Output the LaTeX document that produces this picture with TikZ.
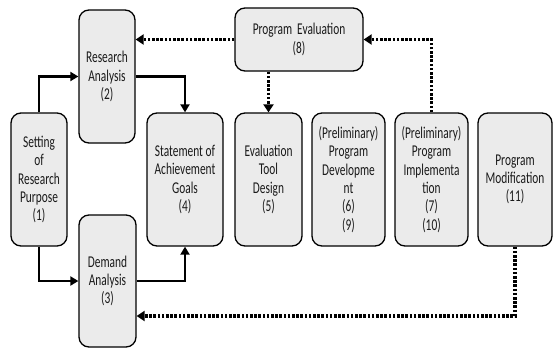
\documentclass[tikz,border=0pt]{standalone}
\usepackage{fontspec}
\setmainfont{Carlito}[FakeStretch=0.69]
\usetikzlibrary{arrows.meta,calc}
\definecolor{boxfill}{HTML}{EBEBEB}
\definecolor{txt}{HTML}{1A1A1A}
\tikzset{
  box/.style={draw=black, line width=1.3pt, fill=boxfill, rounded corners=10pt,
    align=center, text=txt, inner sep=0pt,
    font=\fontsize{16.5}{18.3}\selectfont},
  solidarr/.style={line width=2.6pt, -{Triangle[length=8pt,width=9pt]}},
  dotarr/.style={line width=3.2pt, dash pattern=on 2.6pt off 1.6pt, -{Triangle[length=8pt,width=10pt]}}
}
\begin{document}
\begin{tikzpicture}[x=1pt,y=-1pt]
\useasboundingbox (0,0) rectangle (553,348);
\node[box, minimum width=56pt, minimum height=133pt] (set) at (39,179.5) {Setting\\of\\Research\\Purpose\\(1)};
\node[box, minimum width=56pt, minimum height=133pt] (ra) at (107,76.5) {Research\\Analysis\\(2)};
\node[box, minimum width=57pt, minimum height=132pt] (da) at (107.5,281) {Demand\\Analysis\\(3)};
\node[box, minimum width=76pt, minimum height=133pt] (st) at (185,179.5) {Statement of\\Achievement\\Goals\\(4)};
\node[box, minimum width=67pt, minimum height=133pt] (et) at (268.5,179.5) {Evaluation\\Tool\\Design\\(5)};
\node[box, minimum width=128pt, minimum height=63pt] (pe) at (299,39.5) {Program\ \ Evaluation\\(8)};
\node[box, minimum width=73pt, minimum height=133pt] (pd) at (348.5,179.5) {(Preliminary)\\Program\\Developme\\nt\\(6)\\(9)};
\node[box, minimum width=73pt, minimum height=133pt] (pi) at (431.5,179.5) {(Preliminary)\\Program\\Implementa\\tion\\(7)\\(10)};
\node[box, minimum width=74pt, minimum height=133pt] (pm) at (515,179.5) {Program\\Modification\\(11)};
\coordinate (loop) at (515,316);
\draw[solidarr] (set.north) |- (ra.west);
\draw[solidarr] (ra.east) -| (st.north);
\draw[solidarr] (set.south) |- (da.west);
\draw[solidarr] (da.east) -| (st.south);
\draw[dotarr] (pe.west) -- (pe.west -| ra.east);
\draw[dotarr] (pe.south -| et.north) -- (et.north);
\draw[dotarr] (pi.north) |- (pe.east);
\draw[dotarr] (pm.south) -- (loop) -- (loop -| da.east);
\end{tikzpicture}
\end{document}
